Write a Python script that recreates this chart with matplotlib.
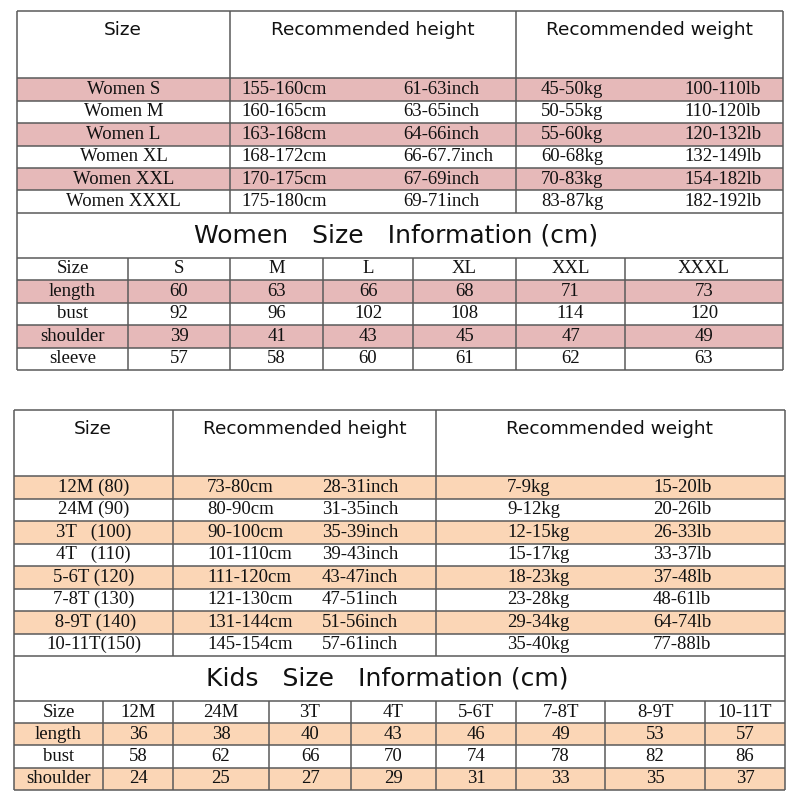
import matplotlib
matplotlib.use("Agg")
import matplotlib.pyplot as plt
from matplotlib.patches import Rectangle

# ---- data ----
women_sizes = ["Women S", "Women M", "Women L", "Women XL", "Women XXL", "Women XXXL"]
women_cm = ["155-160cm", "160-165cm", "163-168cm", "168-172cm", "170-175cm", "175-180cm"]
women_inch = ["61-63inch", "63-65inch", "64-66inch", "66-67.7inch", "67-69inch", "69-71inch"]
women_kg = ["45-50kg", "50-55kg", "55-60kg", "60-68kg", "70-83kg", "83-87kg"]
women_lb = ["100-110lb", "110-120lb", "120-132lb", "132-149lb", "154-182lb", "182-192lb"]

women_cols = ["S", "M", "L", "XL", "XXL", "XXXL"]
women_meas = ["length", "bust", "shoulder", "sleeve"]
women_vals = [[60, 63, 66, 68, 71, 73],
              [92, 96, 102, 108, 114, 120],
              [39, 41, 43, 45, 47, 49],
              [57, 58, 60, 61, 62, 63]]

kids_sizes = ["12M (80)", "24M (90)", "3T   (100)", "4T   (110)", "5-6T (120)",
              "7-8T (130)", " 8-9T (140)", "10-11T(150)"]
kids_cm = ["73-80cm", "80-90cm", "90-100cm", "101-110cm", "111-120cm",
           "121-130cm", "131-144cm", "145-154cm"]
kids_inch = ["28-31inch", "31-35inch", "35-39inch", "39-43inch", "43-47inch",
             "47-51inch", "51-56inch", "57-61inch"]
kids_kg = ["7-9kg", "9-12kg", "12-15kg", "15-17kg", "18-23kg", "23-28kg", "29-34kg", "35-40kg"]
kids_lb = ["15-20lb", "20-26lb", "26-33lb", "33-37lb", "37-48lb", "48-61lb", "64-74lb", "77-88lb"]

kids_cols = ["12M", "24M", "3T", "4T", "5-6T", "7-8T", "8-9T", "10-11T"]
kids_meas = ["length", "bust", "shoulder"]
kids_vals = [[36, 38, 40, 43, 46, 49, 53, 57],
             [58, 62, 66, 70, 74, 78, 82, 86],
             [24, 25, 27, 29, 31, 33, 35, 37]]

PINK = "#e6b9b9"
PEACH = "#fbd6b6"
LINE = "#5a5a5a"
SERIF = "Liberation Serif"
HAND = "DejaVu Sans"

fig = plt.figure(figsize=(8, 8), dpi=100)
ax = fig.add_axes([0, 0, 1, 1])
ax.set_xlim(0, 800)
ax.set_ylim(800, 0)
ax.axis("off")


def hline(y, x0, x1):
    ax.plot([x0, x1], [y, y], color=LINE, lw=1.1, solid_capstyle="butt")


def vline(x, y0, y1):
    ax.plot([x, x], [y0, y1], color=LINE, lw=1.1, solid_capstyle="butt")


def fill(x0, x1, y0, y1, c):
    ax.add_patch(Rectangle((x0, y0), x1 - x0, y1 - y0, color=c, lw=0, zorder=0))


def body(x, y, s, ha="center"):
    ax.text(x, y, s, ha=ha, va="center", fontsize=13.5, family=SERIF, color="#111")


def draw_block(left, right, top, head_bot, row_h, col_lines, head_x, head_txt,
               sizes, cm, inch, kg, lb, pos, shade, title, title_x, mcols, mbounds,
               meas, vals, mrow_h):
    n = len(sizes)
    bottom = head_bot + n * row_h
    title_bot = bottom + 45
    for i in range(n):
        y0 = head_bot + i * row_h
        if i % 2 == 0:
            fill(left, right, y0, y0 + row_h, shade)
        yc = y0 + row_h / 2
        body((left + col_lines[0]) / 2, yc, sizes[i])
        body(pos[0], yc, cm[i], "left")
        body(pos[1], yc, inch[i], "left")
        body(pos[2], yc, kg[i], "left")
        body(pos[3], yc, lb[i], "left")
    for x, s in zip(head_x, head_txt):
        ax.text(x, top + 19, s, ha="center", va="center", fontsize=13.3,
                family=HAND, color="#111")
    ax.text(title_x, (bottom + title_bot) / 2, title, ha="center", va="center",
            fontsize=18, family=HAND, color="#111")
    # measurement section
    for j, m in enumerate([""] + meas):
        y0 = title_bot + j * mrow_h
        if j % 2 == 1:
            fill(left, right, y0, y0 + mrow_h, shade)
        yc = y0 + mrow_h / 2
        body((mbounds[0] + mbounds[1]) / 2, yc, "Size" if j == 0 else m)
        row = mcols if j == 0 else [str(v) for v in vals[j - 1]]
        for k, s in enumerate(row):
            body((mbounds[k + 1] + mbounds[k + 2]) / 2, yc, s)
    mbot = title_bot + (len(meas) + 1) * mrow_h
    # grid
    hline(top, left, right)
    hline(head_bot, left, right)
    for i in range(1, n + 1):
        hline(head_bot + i * row_h, left, right)
    for j in range(len(meas) + 2):
        hline(title_bot + j * mrow_h, left, right)
    vline(left, top, mbot)
    vline(right, top, mbot)
    for x in col_lines:
        vline(x, top, bottom)
    for x in mbounds[1:-1]:
        vline(x, title_bot, mbot)


draw_block(17, 783, 11, 78.3, 22.4, [230, 516], [123, 373, 650],
           ["Size", "Recommended height", "Recommended weight"],
           women_sizes, women_cm, women_inch, women_kg, women_lb,
           [241, 403, 541, 684], PINK, "Women   Size   Information (cm)", 396,
           women_cols, [17, 128, 230, 323, 413, 516, 625, 783],
           women_meas, women_vals, 22.5)

draw_block(14, 785, 410, 476, 22.5, [173, 436], [93, 305, 610],
           ["Size", "Recommended height", "Recommended weight"],
           kids_sizes, kids_cm, kids_inch, kids_kg, kids_lb,
           [207, 322, 507, 653], PEACH, "Kids   Size   Information (cm)", 387,
           kids_cols, [14, 103, 173, 269, 351, 436, 516, 605, 705, 785],
           kids_meas, kids_vals, 22.2)

fig.savefig("out.png", dpi=100, facecolor="white")
